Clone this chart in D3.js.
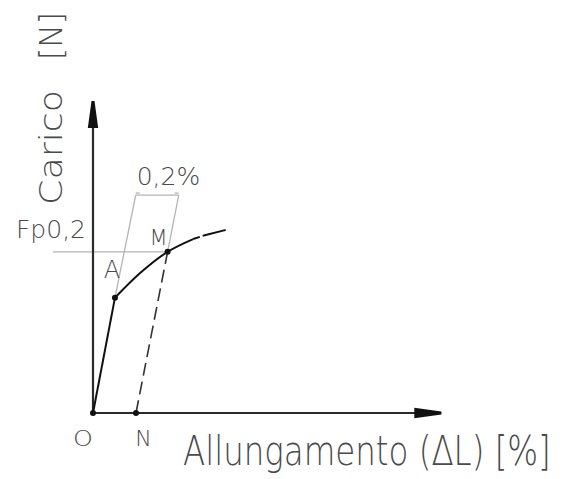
<!DOCTYPE html>
<html>
<head>
<meta charset="utf-8">
<script src="https://cdn.jsdelivr.net/npm/d3@7"></script>
<style>
  html, body { margin: 0; padding: 0; background: #fff; }
  svg { display: block; }
  text { font-family: "DejaVu Sans", sans-serif; font-weight: 200; fill: #4a4a4a; }
</style>
</head>
<body>
<div id="viz"></div>
<script>
// elongation [%] and load (relative units)
const curveX = [0, 0.102];               // elastic part O -> A
const curveY = [0, 0.443];
const plasticX = [0.102, 0.219, 0.347, 0.466];  // A -> M -> beyond
const plasticY = [0.443, 0.538, 0.620, 0.669];
const tailX = [0.466, 0.52, 0.617];
const tailY = [0.669, 0.684, 0.704];
const offset = 0.2;          // 0,2 % offset
const dimY = 0.838;          // height of the 0,2 % dimension line
const pointNames = ['O', 'A', 'M', 'N'];
const axisMax = [1.62, 1.2]; // arrow tips

const width = 563, height = 479;

const svg = d3.select('#viz').append('svg')
  .attr('width', width)
  .attr('height', height);

const x = d3.scaleLinear().domain([0, axisMax[0]]).range([93, 441.3]);
const y = d3.scaleLinear().domain([0, axisMax[1]]).range([413, 101]);

const O = [0, 0];
const A = [curveX[1], curveY[1]];
const M = [plasticX[2], plasticY[2]];
const N = [offset, 0];
// offset line N-M extended up to the dimension line
const slope = (M[0] - N[0]) / M[1];
const rightTop = [M[0] + (dimY - M[1]) * slope, dimY];
const leftTop = [rightTop[0] - offset, dimY];

const line = d3.line().x(d => x(d[0])).y(d => y(d[1]));
const grey = '#b4b4b4';

// construction lines
svg.append('line')
  .attr('x1', x(0) - 40).attr('y1', y(M[1]))
  .attr('x2', x(M[0])).attr('y2', y(M[1]))
  .attr('stroke', grey).attr('stroke-width', 1.3);
svg.append('path')
  .attr('d', line([A, leftTop]) + line([M, rightTop]))
  .attr('fill', 'none').attr('stroke', grey).attr('stroke-width', 1.3);
svg.append('path')
  .attr('d', line([[leftTop[0], dimY], [rightTop[0], dimY]]))
  .attr('fill', 'none').attr('stroke', grey).attr('stroke-width', 1.3);
[leftTop, rightTop].forEach((p, i) => {
  svg.append('line')
    .attr('x1', x(p[0])).attr('y1', y(p[1]) - 2)
    .attr('x2', x(p[0]) + (i ? -4 : 4)).attr('y2', y(p[1]) - 2)
    .attr('stroke', grey).attr('stroke-width', 1.3);
});

// dashed offset line N -> M
svg.append('path')
  .attr('d', line([N, M]))
  .attr('fill', 'none').attr('stroke', '#333').attr('stroke-width', 1.6)
  .attr('stroke-dasharray', '13,6');

// axes
const axisColor = '#2a2a2a';
svg.append('path')
  .attr('d', line([[0, axisMax[1]], [0, 0], [axisMax[0], 0]]))
  .attr('fill', 'none').attr('stroke', axisColor).attr('stroke-width', 2.2);
const aLen = 27, aTip = 1.5, aBase = 5.2;
const tx = x(axisMax[0]), ty = y(0);
svg.append('path')
  .attr('d', `M${tx},${ty - aTip}L${tx - aLen},${ty - aBase}L${tx - aLen},${ty + aBase}L${tx},${ty + aTip}Z`)
  .attr('fill', '#111');
const ux = x(0), uy = y(axisMax[1]);
svg.append('path')
  .attr('d', `M${ux - aTip},${uy}L${ux - aBase},${uy + aLen}L${ux + aBase},${uy + aLen}L${ux + aTip},${uy}Z`)
  .attr('fill', '#111');

// load-elongation curve
svg.append('path')
  .attr('d', line(curveX.map((d, i) => [d, curveY[i]])))
  .attr('fill', 'none').attr('stroke', '#111').attr('stroke-width', 2);
svg.append('path')
  .attr('d', line.curve(d3.curveMonotoneX)(plasticX.map((d, i) => [d, plasticY[i]])))
  .attr('fill', 'none').attr('stroke', '#111').attr('stroke-width', 2);
line.curve(d3.curveLinear);
svg.append('path')
  .attr('d', line(tailX.map((d, i) => [d, tailY[i]])))
  .attr('fill', 'none').attr('stroke', '#111').attr('stroke-width', 2)
  .attr('stroke-dasharray', '7,3,22,0');

// points
[O, A, M, N].forEach(p => {
  svg.append('circle')
    .attr('cx', x(p[0])).attr('cy', y(p[1])).attr('r', 3)
    .attr('fill', '#111');
});

// point labels
const labelPos = [
  { p: O, dx: -10, dy: 33, size: 22, sx: 1.15 },
  { p: A, dx: -3, dy: -19.5, size: 24, sx: 1 },
  { p: M, dx: -9, dy: -7, size: 21, sx: 1 },
  { p: N, dx: 7.5, dy: 33, size: 22, sx: 1 }
];
labelPos.forEach((l, i) => {
  const lx = x(l.p[0]) + l.dx, ly = y(l.p[1]) + l.dy;
  svg.append('text')
    .attr('transform', `translate(${lx},${ly}) scale(${l.sx},1)`)
    .attr('text-anchor', 'middle')
    .attr('font-size', l.size)
    .text(pointNames[i]);
});

svg.append('text')
  .attr('x', x(leftTop[0]) + 1).attr('y', y(dimY) - 10)
  .attr('font-size', 25)
  .text('0,2%');

svg.append('text')
  .attr('x', x(0) - 7).attr('y', y(M[1]) - 13.4)
  .attr('text-anchor', 'end')
  .attr('font-size', 25)
  .text('Fp0,2');

// axis titles, squeezed with a scale so that their boxes stay real
function fitText(sel, len, tr) {
  const w = sel.node().getComputedTextLength();
  sel.attr('transform', `${tr} scale(${len / w},1)`);
}
const xTitle = svg.append('text')
  .attr('font-size', 40)
  .text('Allungamento (ΔL) [%]');
fitText(xTitle, 368, 'translate(183,465)');

const yTitle = svg.append('text')
  .attr('transform', 'translate(62,205) rotate(-90)')
  .attr('font-size', 32);
yTitle.append('tspan')
  .attr('x', 0).attr('y', 0)
  .attr('textLength', 115)
  .attr('lengthAdjust', 'spacingAndGlyphs')
  .text('Carico');
yTitle.append('tspan').text(' ');
yTitle.append('tspan')
  .attr('x', 145).attr('y', 0)
  .attr('textLength', 48)
  .attr('lengthAdjust', 'spacingAndGlyphs')
  .text('[N]');
</script>
</body>
</html>
